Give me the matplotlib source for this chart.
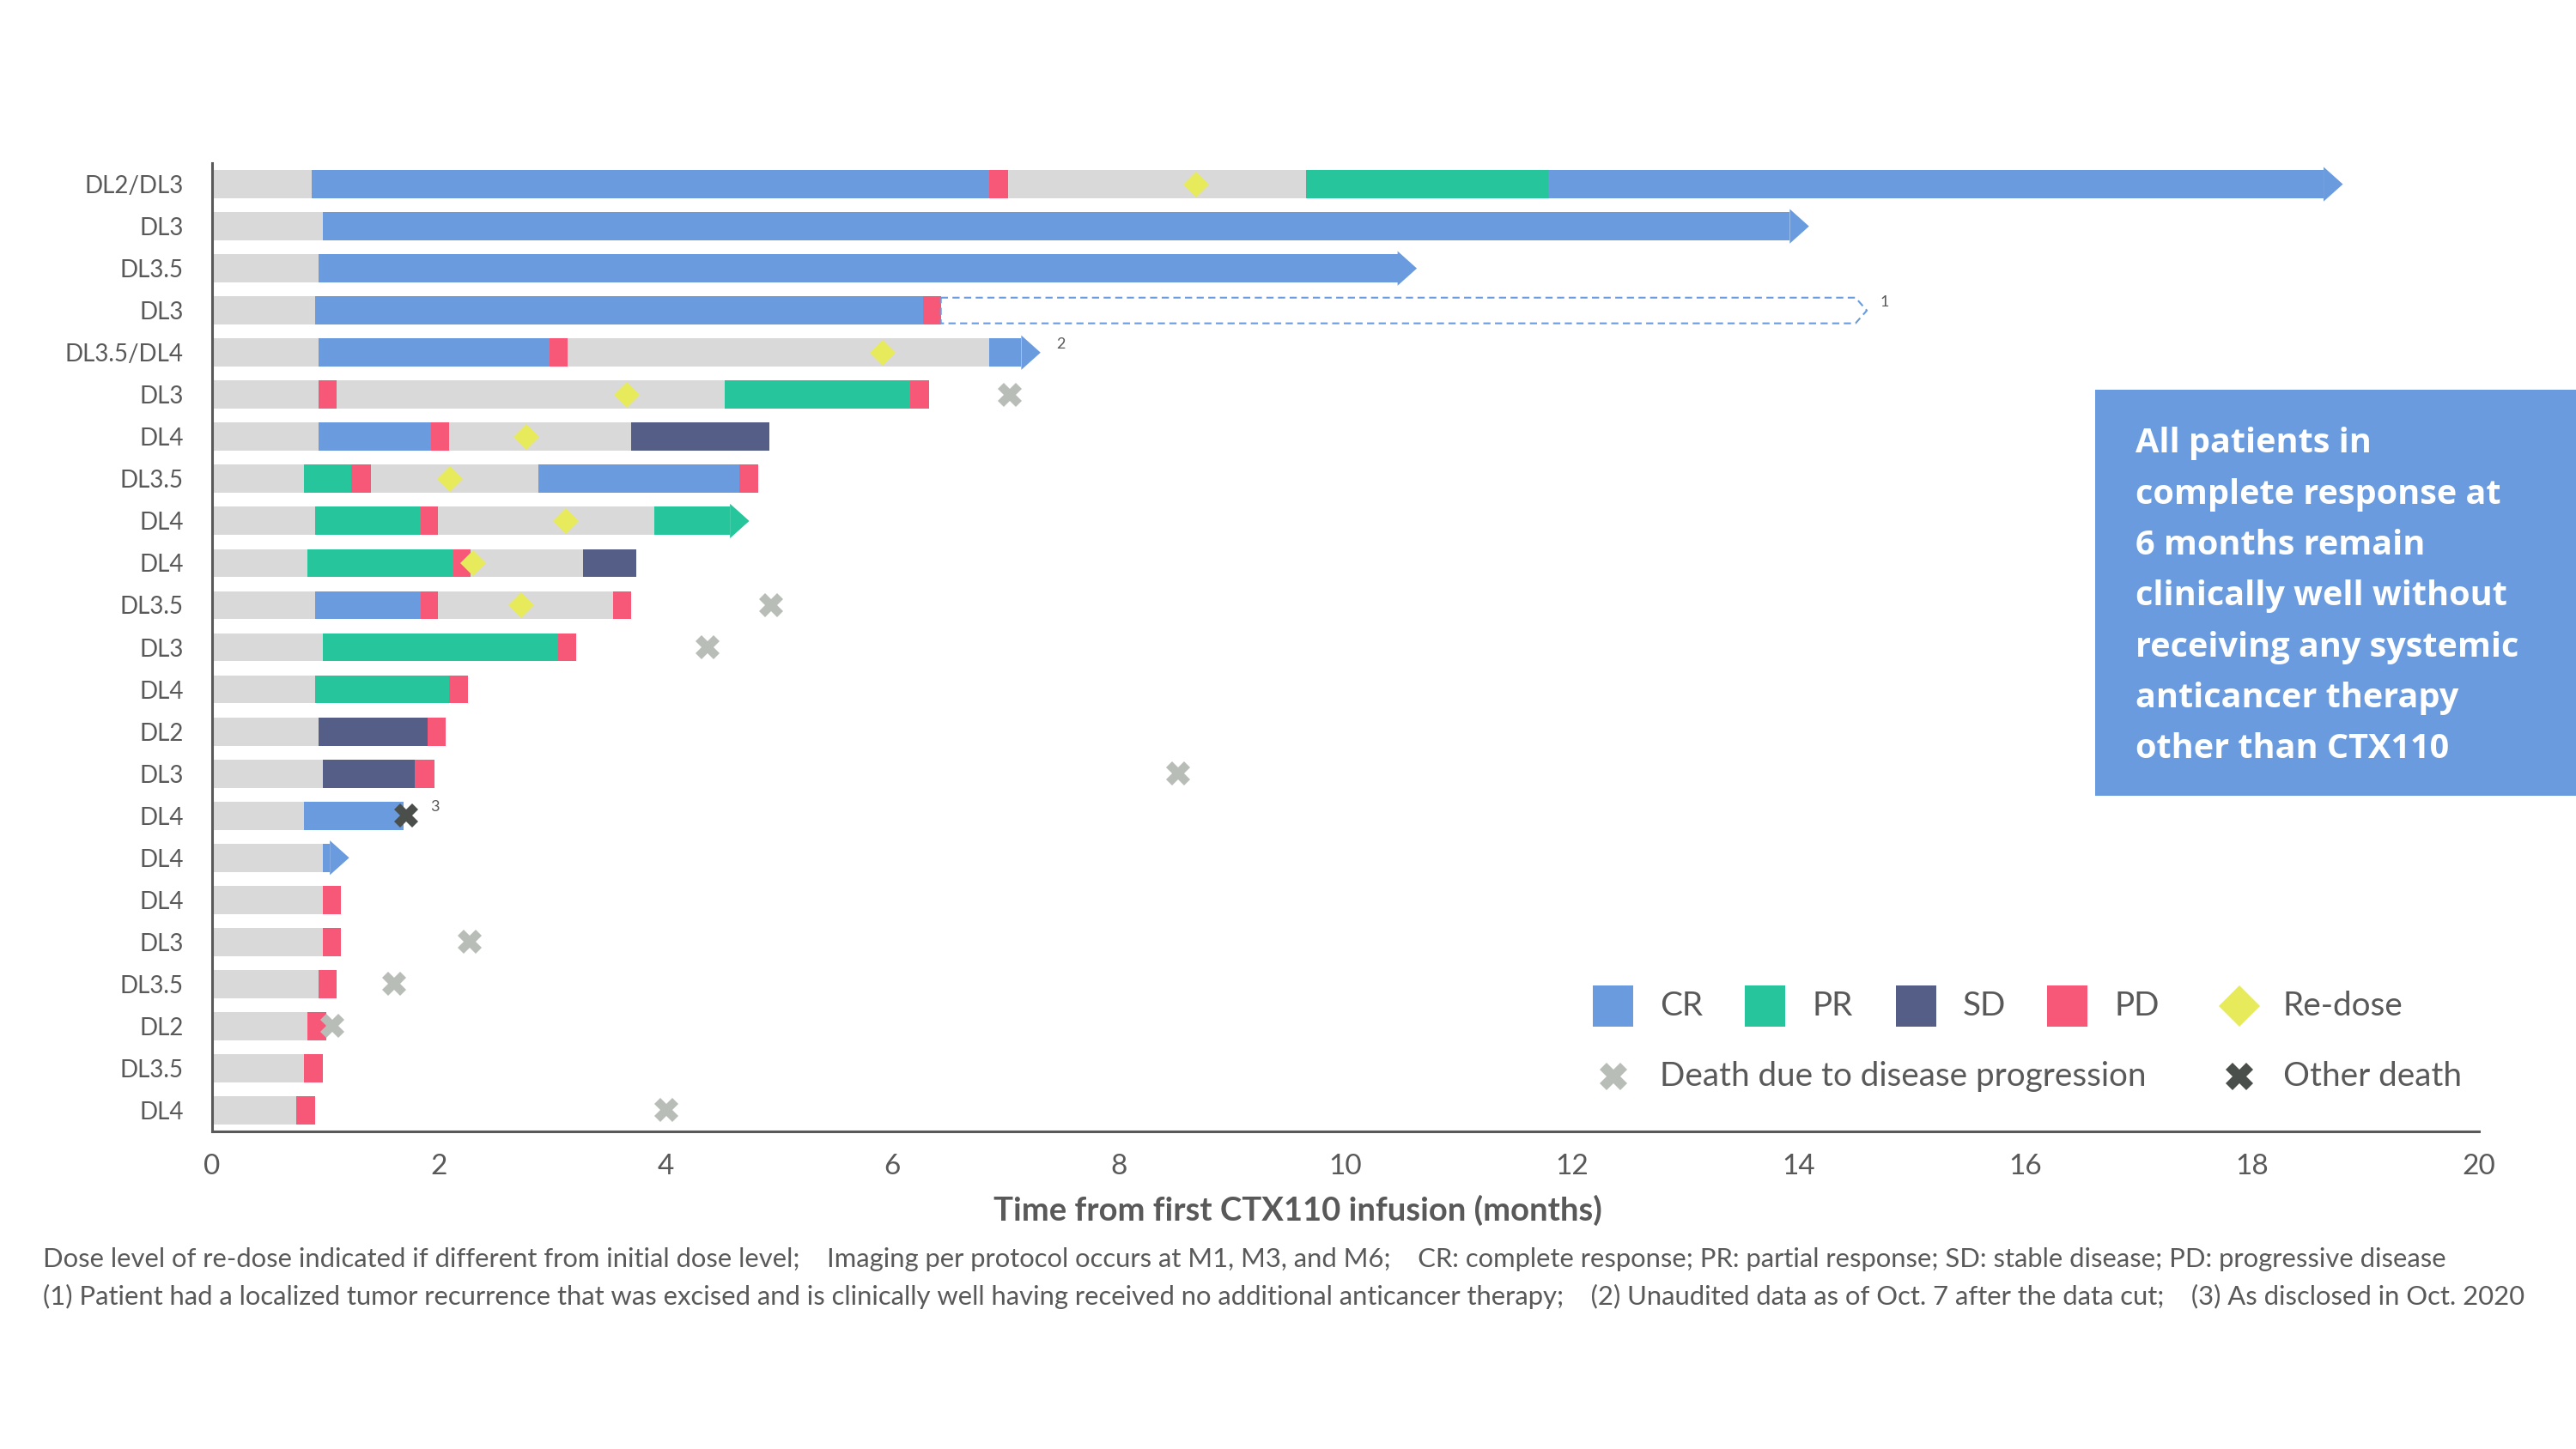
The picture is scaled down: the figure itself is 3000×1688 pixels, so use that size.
import matplotlib.pyplot as plt
from matplotlib.patches import Polygon, Rectangle

plt.rcParams['font.family'] = ['Lato', 'DejaVu Sans']

# Dosisstufe je Patient (Zeile 0 = oben)
dose_labels = ["DL2/DL3", "DL3", "DL3.5", "DL3", "DL3.5/DL4", "DL3", "DL4", "DL3.5",
               "DL4", "DL4", "DL3.5", "DL3", "DL4", "DL2", "DL3", "DL4", "DL4", "DL4",
               "DL3", "DL3.5", "DL2", "DL3.5", "DL4"]

# Response-Abschnitte: (Zeile, Start, Ende) in Monaten
cr_segments = [(0, 0.88, 6.86), (0, 11.79, 18.80), (1, 0.98, 14.09), (2, 0.94, 10.63),
               (3, 0.91, 6.27), (4, 0.94, 2.98), (4, 6.86, 7.31), (6, 0.94, 1.93),
               (7, 2.88, 4.65), (10, 0.91, 1.84), (15, 0.81, 1.69), (16, 0.98, 1.21)]
pr_segments = [(0, 9.65, 11.79), (5, 4.52, 6.16), (7, 0.81, 1.23), (8, 0.91, 1.84),
               (8, 3.90, 4.74), (9, 0.84, 2.13), (11, 0.98, 3.05), (12, 0.91, 2.09)]
sd_segments = [(6, 3.70, 4.92), (9, 3.27, 3.74), (13, 0.94, 1.90), (14, 0.98, 1.79)]
pd_segments = [(0, 6.86, 7.02), (3, 6.27, 6.43), (4, 2.98, 3.14), (5, 0.94, 1.10),
               (5, 6.16, 6.33), (6, 1.93, 2.09), (7, 1.23, 1.40), (7, 4.65, 4.82),
               (8, 1.84, 1.99), (9, 2.13, 2.28), (10, 1.84, 1.99), (10, 3.54, 3.70),
               (11, 3.05, 3.21), (12, 2.09, 2.26), (13, 1.90, 2.06), (14, 1.79, 1.96),
               (17, 0.98, 1.14), (18, 0.98, 1.14), (19, 0.94, 1.10), (20, 0.84, 1.01),
               (21, 0.81, 0.98), (22, 0.74, 0.91)]

# Zeilen, deren letzter Abschnitt noch andauert (Pfeil)
ongoing_rows = [0, 1, 2, 4, 8, 16]
# Lokales Rezidiv, exzidiert (gestrichelter Pfeil)
relapse_outline = [(3, 6.43, 14.60)]

redose = [(0, 8.68), (4, 5.92), (5, 3.66), (6, 2.77), (7, 2.10), (8, 3.12), (9, 2.30), (10, 2.73)]
death_pd = [(5, 7.04), (10, 4.93), (11, 4.37), (14, 8.52), (18, 2.27), (19, 1.61), (20, 1.06), (22, 4.01)]
death_other = [(15, 1.71)]
footnote_marks = [(3, 14.72, "1"), (4, 7.45, "2"), (15, 1.93, "3")]

x_ticks = [0, 2, 4, 6, 8, 10, 12, 14, 16, 18, 20]

callout_lines = ["All patients in", "complete response at", "6 months remain",
                 "clinically well without", "receiving any systemic",
                 "anticancer therapy", "other than CTX110"]

footnote_1 = ("Dose level of re-dose indicated if different from initial dose level;    "
              "Imaging per protocol occurs at M1, M3, and M6;    "
              "CR: complete response; PR: partial response; SD: stable disease; PD: progressive disease")
footnote_2 = ("(1) Patient had a localized tumor recurrence that was excised and is clinically well "
              "having received no additional anticancer therapy;    "
              "(2) Unaudited data as of Oct. 7 after the data cut;    (3) As disclosed in Oct. 2020")

# Farben
CR = "#6A9BDE"
PR = "#26C59B"
SD = "#555E87"
PD = "#F85877"
GREY = "#D9D9D9"
YELLOW = "#E7EA5B"
DEATH_GREY = "#B9BDB8"
DEATH_DARK = "#4A4F4B"
TEXT = "#595959"

bar_h = 0.67
head_len = 0.17
head_half = 0.41

fig = plt.figure(figsize=(30, 16.88), dpi=100)
ax = fig.add_axes([0.0823, 0.2192, 0.8800, 0.6682])

state_segments = {CR: cr_segments, PR: pr_segments, SD: sd_segments, PD: pd_segments}

# Ende jeder Zeile bestimmen
row_end = {}
for segs in state_segments.values():
    for row, start, end in segs:
        row_end[row] = max(row_end.get(row, 0), end)

# graue Grundbalken (Nachbeobachtung)
for row in range(len(dose_labels)):
    end = row_end[row]
    if row in ongoing_rows:
        end -= head_len
    ax.barh(row, end, height=bar_h, color=GREY, linewidth=0, zorder=1)

# farbige Abschnitte + Pfeilspitzen
for color, segs in state_segments.items():
    for row, start, end in segs:
        if row in ongoing_rows and end == row_end[row]:
            shaft_end = end - head_len
            ax.barh(row, shaft_end - start, left=start, height=bar_h, color=color,
                    linewidth=0, zorder=2)
            head = Polygon([(shaft_end, row - head_half), (end, row), (shaft_end, row + head_half)],
                           closed=True, facecolor=color, edgecolor='none', zorder=2)
            ax.add_patch(head)
        else:
            ax.barh(row, end - start, left=start, height=bar_h, color=color,
                    linewidth=0, zorder=2)

# gestrichelter Pfeil
for row, start, end in relapse_outline:
    h = 0.305
    xs = [start, end - 0.1, end, end - 0.1, start, start]
    ys = [row - h, row - h, row, row + h, row + h, row - h]
    ax.plot(xs, ys, color=CR, lw=1.5, ls=(0, (4, 2.5)), zorder=2)

# Marker
ax.plot([x for _, x in redose], [r for r, _ in redose], ls='none', marker='D', ms=15.5,
        color=YELLOW, markeredgewidth=0, zorder=4)
ax.plot([x for _, x in death_pd], [r for r, _ in death_pd], ls='none', marker='X', ms=20,
        color=DEATH_GREY, markeredgewidth=0, zorder=4)
ax.plot([x for _, x in death_other], [r for r, _ in death_other], ls='none', marker='X', ms=20,
        color=DEATH_DARK, markeredgewidth=0, zorder=4)

for row, x, label in footnote_marks:
    ax.text(x, row - 0.2, label, fontsize=13, color=TEXT, ha='left', va='center')

# Achsen
ax.set_xlim(0, 20)
ax.set_ylim(len(dose_labels) - 0.5, -0.5)
ax.set_xticks(x_ticks)
ax.set_xticklabels([str(t) for t in x_ticks], fontsize=24, color=TEXT)
ax.set_yticks(range(len(dose_labels)))
ax.set_yticklabels(dose_labels, fontsize=20, color=TEXT)
ax.tick_params(axis='x', length=0, pad=19)
ax.tick_params(axis='y', length=0, pad=24)
for side in ['top', 'right']:
    ax.spines[side].set_visible(False)
for side in ['left', 'bottom']:
    ax.spines[side].set_color(TEXT)
    ax.spines[side].set_linewidth(2.2)
ax.set_xlabel("Time from first CTX110 infusion (months)", fontsize=27.5, fontweight='bold',
              color=TEXT, va='center')
ax.xaxis.set_label_coords(0.479, -0.0816)

# Overlay in Pixelkoordinaten fuer Legende, Kasten und Fussnoten
lax = fig.add_axes([0, 0, 1, 1])
lax.set_xlim(0, 3000)
lax.set_ylim(1688, 0)
lax.axis('off')

# Legende
legend_boxes = [(1855, "CR", CR), (2032, "PR", PR), (2208, "SD", SD), (2384, "PD", PD)]
for x, label, color in legend_boxes:
    lax.add_patch(Rectangle((x, 1148), 47, 48, facecolor=color, edgecolor='none'))
    lax.text(x + 78, 1172, label, fontsize=27.8, color=TEXT, va='center', ha='left')
lax.plot(2608, 1172, marker='D', ms=24, color=YELLOW, markeredgewidth=0)
lax.text(2659, 1172, "Re-dose", fontsize=27.8, color=TEXT, va='center', ha='left')
lax.plot(1879, 1254, marker='X', ms=23, color=DEATH_GREY, markeredgewidth=0)
lax.text(1933, 1254, "Death due to disease progression", fontsize=27.8, color=TEXT,
         va='center', ha='left')
lax.plot(2608, 1254, marker='X', ms=23, color=DEATH_DARK, markeredgewidth=0)
lax.text(2659, 1254, "Other death", fontsize=27.8, color=TEXT, va='center', ha='left')

# Hinweis-Kasten
lax.add_patch(Rectangle((2440, 454), 560, 473, facecolor=CR, edgecolor='none'))
for i, line in enumerate(callout_lines):
    lax.text(2487, 517 + i * 59.3, line, fontsize=28.5, fontweight='bold', color='white',
             family=['Open Sans', 'DejaVu Sans'], va='center', ha='left')

# Fussnoten
lax.text(50, 1467, footnote_1, fontsize=22.3, color=TEXT, va='center', ha='left')
lax.text(50, 1510, footnote_2, fontsize=22.3, color=TEXT, va='center', ha='left')

fig.savefig("out.png", dpi=100, facecolor='white')
